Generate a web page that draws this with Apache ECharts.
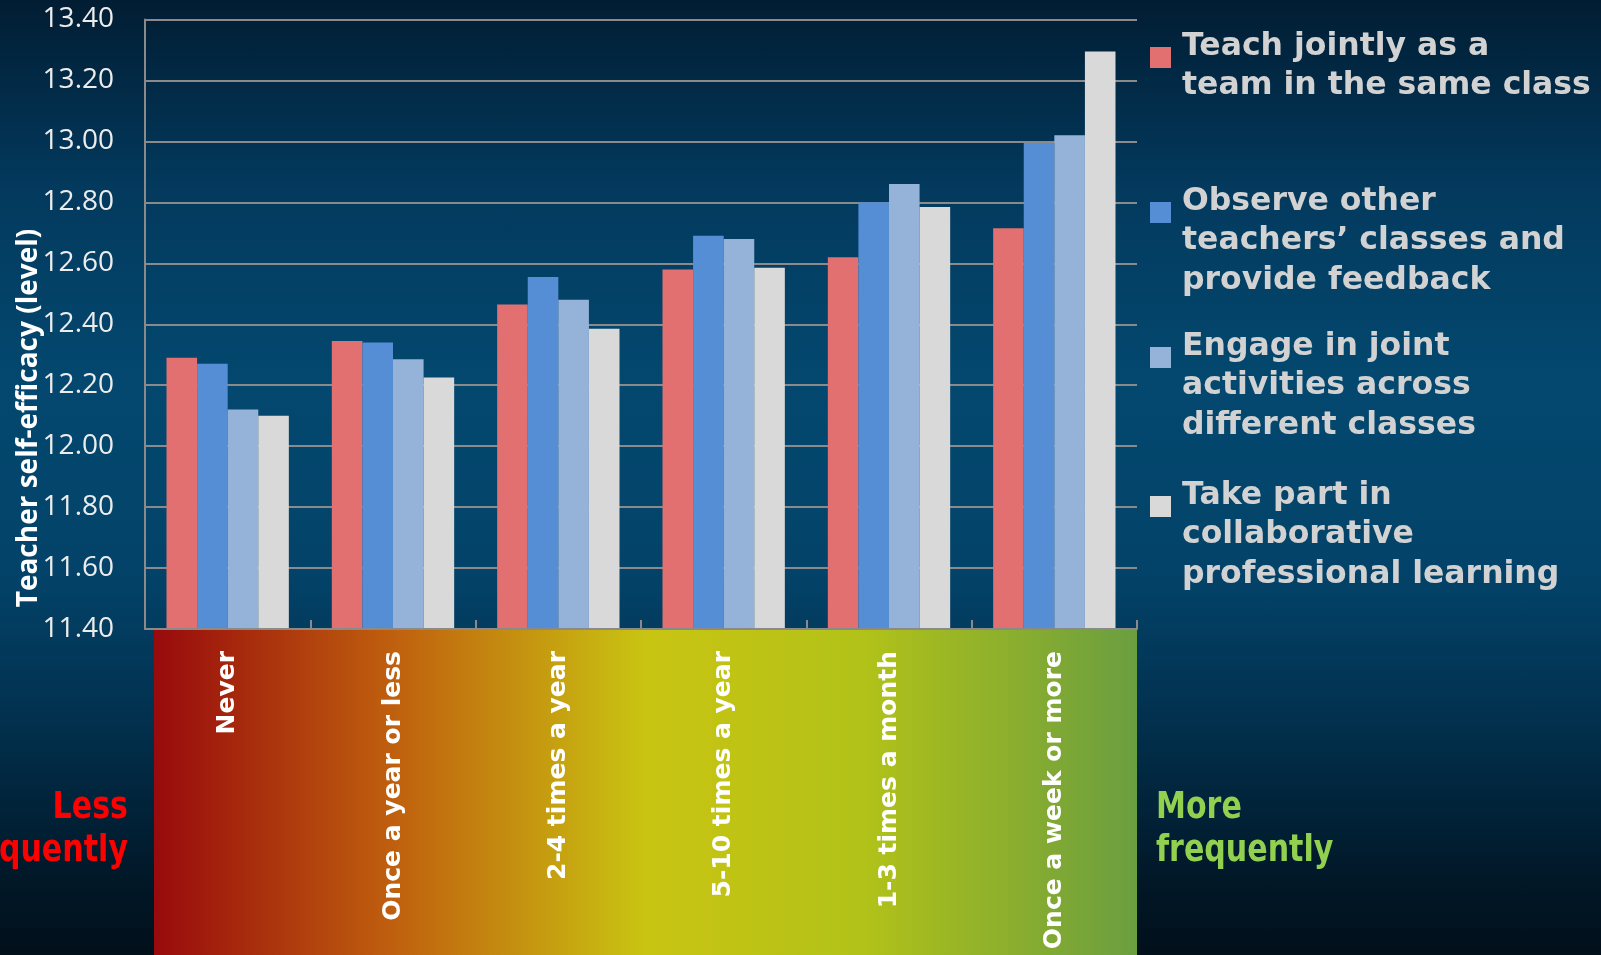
<!DOCTYPE html>
<html>
<head>
<meta charset="utf-8">
<script src="https://cdn.jsdelivr.net/npm/echarts@6/dist/echarts.min.js"></script>
<style>
  html, body { margin: 0; padding: 0; }
  #chart {
    width: 1601px; height: 955px;
    background: linear-gradient(to bottom, #011d33 0%, #033a5e 20%, #03486f 40%, #034369 60%, #02314f 75%, #011828 92%, #01101b 100%);
  }
</style>
</head>
<body>
<div id="chart"></div>
<script>
// categories (frequency of collaboration)
var categories = ['Never', 'Once a year or less', '2-4 times a year', '5-10 times a year', '1-3 times a month', 'Once a week or more'];

// series names, as they appear in the legend (line breaks as in the picture)
var seriesNames = [
    'Teach jointly as a\nteam in the same class',
    'Observe other\nteachers\u2019 classes and\nprovide feedback',
    'Engage in joint\nactivities across\ndifferent classes',
    'Take part in\ncollaborative\nprofessional learning'
];
var seriesColors = ['#e27070', '#568ed5', '#95b3d8', '#d9d9d9'];

// teacher self-efficacy values
var teachJointly   = [12.29, 12.345, 12.465, 12.58, 12.62, 12.715];
var observeClasses = [12.27, 12.34, 12.555, 12.69, 12.80, 12.995];
var jointActivity  = [12.12, 12.285, 12.48, 12.68, 12.86, 13.02];
var collabLearning = [12.10, 12.225, 12.385, 12.585, 12.785, 13.295];
var seriesValues = [teachJointly, observeClasses, jointActivity, collabLearning];

// y axis
var yMin = 11.4, yMax = 13.4, yStep = 0.2;

var myChart = echarts.init(document.getElementById('chart'));

var series = [];
for (var i = 0; i < seriesValues.length; i++) {
    series.push({
        name: seriesNames[i],
        type: 'bar',
        data: seriesValues[i],
        barGap: '0%',
        barCategoryGap: '26%',
        itemStyle: { color: seriesColors[i] }
    });
}

// legend drawn on the right, one block per series
var legendTops = [27, 182, 327, 476];
var legendItems = [];
for (var k = 0; k < seriesNames.length; k++) {
    legendItems.push({
        type: 'rect',
        shape: { x: 1150, y: legendTops[k] + 20, width: 21, height: 21 },
        style: { fill: seriesColors[k] }
    });
    legendItems.push({
        type: 'text',
        x: 1182, y: legendTops[k],
        style: {
            text: seriesNames[k],
            fill: '#d2d2d2',
            font: 'bold 31.5px "DejaVu Sans"',
            lineHeight: 39.5,
            align: 'left',
            verticalAlign: 'top'
        }
    });
}

var option = {
    animation: false,
    backgroundColor: 'transparent',
    grid: { left: 145, right: 464, top: 19.5, bottom: 326 },
    xAxis: {
        type: 'category',
        data: categories,
        z: 5,
        axisLine: { lineStyle: { color: '#8a8a8a', width: 2 } },
        axisTick: { show: true, inside: true, length: 9, lineStyle: { color: '#8a8a8a', width: 2 } },
        axisLabel: {
            rotate: 90,
            margin: 22,
            color: '#ffffff',
            fontFamily: 'DejaVu Sans',
            fontWeight: 'bold',
            fontSize: 25
        }
    },
    yAxis: {
        type: 'value',
        min: yMin,
        max: yMax,
        interval: yStep,
        axisLine: { show: true, lineStyle: { color: '#8a8a8a', width: 2 } },
        axisTick: { show: false },
        splitLine: { lineStyle: { color: '#8a8a8a', width: 2 } },
        axisLabel: {
            margin: 31,
            color: '#ececec',
            fontFamily: 'Open Sans',
            fontSize: 28,
            formatter: function (v) { return v.toFixed(2); }
        }
    },
    graphic: [
        {
            type: 'rect',
            z: -1,
            shape: { x: 154, y: 630, width: 983, height: 325 },
            style: {
                fill: new echarts.graphic.LinearGradient(0, 0, 1, 0, [
                    { offset: 0, color: '#980a0c' },
                    { offset: 0.25, color: '#c0620e' },
                    { offset: 0.5, color: '#c9c412' },
                    { offset: 0.72, color: '#b2c218' },
                    { offset: 1, color: '#6a9e40' }
                ])
            }
        },
        {
            type: 'text',
            x: 29, y: 418,
            rotation: Math.PI / 2,
            style: {
                text: 'Teacher self-efficacy (level)',
                fill: '#ffffff',
                font: 'bold 28px "Open Sans"',
                align: 'center',
                verticalAlign: 'middle'
            }
        },
        {
            type: 'text',
            x: 128, y: 787,
            scaleX: 0.88,
            style: {
                text: 'Less\nfrequently',
                fill: '#ff0000',
                font: 'bold 38px "DejaVu Sans Condensed"',
                lineHeight: 43,
                align: 'right',
                verticalAlign: 'top'
            }
        },
        {
            type: 'text',
            x: 1156, y: 787,
            scaleX: 0.88,
            style: {
                text: 'More\nfrequently',
                fill: '#92d050',
                font: 'bold 38px "DejaVu Sans Condensed"',
                lineHeight: 43,
                align: 'left',
                verticalAlign: 'top'
            }
        }
    ].concat(legendItems),
    series: series
};

myChart.setOption(option);
</script>
</body>
</html>
